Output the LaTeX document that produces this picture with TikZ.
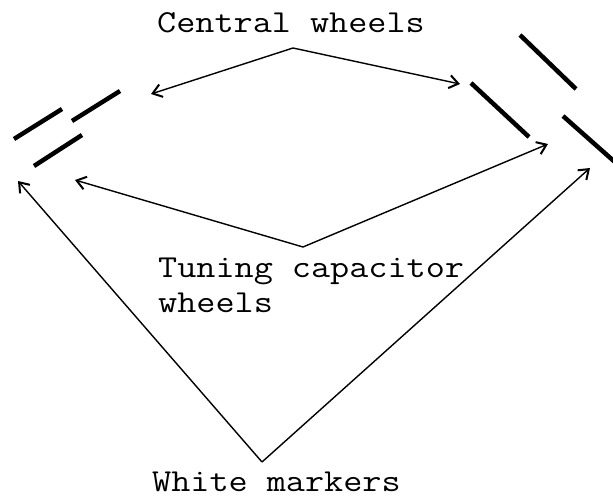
\documentclass[tikz,border=0pt]{standalone}
\usepackage{fontspec}
\setmonofont[FakeStretch=1.16]{Latin Modern Mono}
\usetikzlibrary{arrows.meta}

\tikzset{
  label/.style={font=\ttfamily\fontsize{32}{35}\selectfont, inner sep=0pt, align=left},
  pointer/.style={-{Straight Barb[length=9pt,width=13pt,line width=2pt]}, line width=1.4pt},
  marker/.style={line width=4.5pt}
}

\begin{document}
\begin{tikzpicture}[x=1pt,y=-1pt]
\useasboundingbox (0,0) rectangle (613,497);
\clip (0,0) rectangle (613,497);

% labels
\node[label, anchor=base west] (central) at (157,33) {Central wheels};
\node[label, anchor=base west] (tuning) at (158,312) {Tuning capacitor\\wheels};
\node[font=\ttfamily\fontsize{32}{35}\selectfont, inner sep=0pt, anchor=base west] (white) at (152,491) {White markers};

% where the pointers meet
\coordinate (Cc) at (293,48);
\coordinate (Tc) at (303,247);
\coordinate (Wc) at (262,462);

% pointer ends
\coordinate (C1) at (151,94);
\coordinate (C2) at (460,84);
\coordinate (T1) at (75,180);
\coordinate (T2) at (548,144);
\coordinate (W1) at (18,181);
\coordinate (W2) at (590,168);

% wheels and markers
\draw[marker] (14,139) -- (62,109);
\draw[marker] (72,121) -- (120,91);
\draw[marker] (34,166) -- (82,135);
\draw[marker] (520,35) -- (576,89);
\draw[marker] (471,83) -- (529,137);
\draw[marker] (563,116) -- (625,171);

\draw[pointer] (Cc) -- (C1);
\draw[pointer] (Cc) -- (C2);
\draw[pointer] (Tc) -- (T1);
\draw[pointer] (Tc) -- (T2);
\draw[pointer] (Wc) -- (W1);
\draw[pointer] (Wc) -- (W2);
\end{tikzpicture}
\end{document}
